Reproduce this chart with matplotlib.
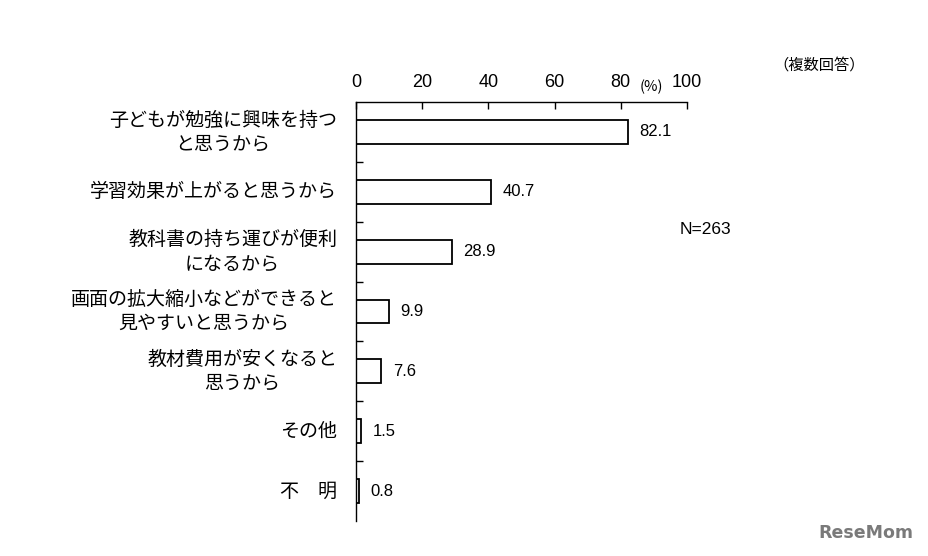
import matplotlib
matplotlib.use('Agg')
import matplotlib.pyplot as plt

plt.rcParams['font.family'] = ['Noto Sans CJK JP', 'DejaVu Sans']
LATIN = ['Liberation Sans', 'Noto Sans CJK JP']

labels = ['子どもが勉強に興味を持つ\nと思うから',
          '学習効果が上がると思うから',
          '教科書の持ち運びが便利\nになるから',
          '画面の拡大縮小などができると\n見やすいと思うから',
          '教材費用が安くなると\n思うから',
          'その他',
          '不　明']
values = [82.1, 40.7, 28.9, 9.9, 7.6, 1.5, 0.8]
xticks = [0, 20, 40, 60, 80, 100]

W, H = 929, 556
fig = plt.figure(figsize=(W / 100, H / 100), dpi=100)
ax = fig.add_axes([356 / W, 1 - 521 / H, (687 - 356) / W, (521 - 102) / H])

ypos = list(range(len(values)))
ax.barh(ypos, values, height=0.4, color='white', edgecolor='black', linewidth=1.3)
ax.set_xlim(0, 100)
ax.set_ylim(len(values) - 0.5, -0.5)

ax.xaxis.tick_top()
ax.set_xticks(xticks)
ax.set_xticklabels([str(t) for t in xticks], fontsize=13, family=LATIN)
ax.tick_params(axis='x', direction='in', length=5, pad=8, width=1)
ax.set_yticks([i + 0.5 for i in range(len(values) - 1)])
ax.set_yticklabels([])
ax.tick_params(axis='y', direction='in', length=5, width=1)
for s in ['right', 'bottom']:
    ax.spines[s].set_visible(False)
for s in ['top', 'left']:
    ax.spines[s].set_linewidth(1)

for i, (lab, v) in enumerate(zip(labels, values)):
    ax.text(-5.7, i, lab, ha='right', va='center', multialignment='center',
            fontsize=13.7, linespacing=1.2)
    ax.text(v + 3.6, i, f'{v:.1f}', ha='left', va='center', fontsize=12, family=LATIN)

fig.text(651 / W, 1 - 87 / H, '(%)', ha='center', va='center', fontsize=10.5)
fig.text(819 / W, 1 - 65 / H, '（複数回答）', ha='center', va='center', fontsize=11)
fig.text(705 / W, 1 - 230 / H, 'N=263', ha='center', va='center', fontsize=12.5, family=LATIN)
fig.text(866 / W, 1 - 533 / H, 'ReseMom', ha='center', va='center', fontsize=12.5,
         fontweight='bold', color='#7a7a7a', family=['DejaVu Sans'])

fig.savefig('out.png', dpi=100)
